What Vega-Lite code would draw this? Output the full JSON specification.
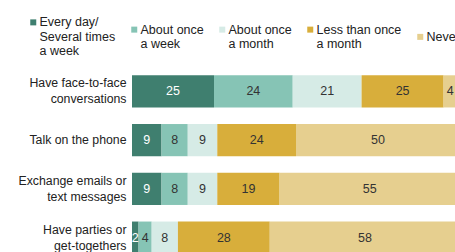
{
  "$schema": "https://vega.github.io/schema/vega-lite/v6.json",
  "autosize": {"type": "none"},
  "padding": {"left": 132, "top": 67, "right": 0, "bottom": 0},
  "width": 328,
  "height": 195,
  "background": "white",
  "config": {"view": {"stroke": null}, "font": "Liberation Sans"},
  "data": {
    "values": [
      {"activity": "Have face-to-face|conversations", "freq": "Every day/|Several times|a week", "o": 1, "value": 25},
      {"activity": "Have face-to-face|conversations", "freq": "About once|a week", "o": 2, "value": 24},
      {"activity": "Have face-to-face|conversations", "freq": "About once|a month", "o": 3, "value": 21},
      {"activity": "Have face-to-face|conversations", "freq": "Less than once|a month", "o": 4, "value": 25},
      {"activity": "Have face-to-face|conversations", "freq": "Never", "o": 5, "value": 4},
      {"activity": "Talk on the phone", "freq": "Every day/|Several times|a week", "o": 1, "value": 9},
      {"activity": "Talk on the phone", "freq": "About once|a week", "o": 2, "value": 8},
      {"activity": "Talk on the phone", "freq": "About once|a month", "o": 3, "value": 9},
      {"activity": "Talk on the phone", "freq": "Less than once|a month", "o": 4, "value": 24},
      {"activity": "Talk on the phone", "freq": "Never", "o": 5, "value": 50},
      {"activity": "Exchange emails or|text messages", "freq": "Every day/|Several times|a week", "o": 1, "value": 9},
      {"activity": "Exchange emails or|text messages", "freq": "About once|a week", "o": 2, "value": 8},
      {"activity": "Exchange emails or|text messages", "freq": "About once|a month", "o": 3, "value": 9},
      {"activity": "Exchange emails or|text messages", "freq": "Less than once|a month", "o": 4, "value": 19},
      {"activity": "Exchange emails or|text messages", "freq": "Never", "o": 5, "value": 55},
      {"activity": "Have parties or|get-togethers", "freq": "Every day/|Several times|a week", "o": 1, "value": 2},
      {"activity": "Have parties or|get-togethers", "freq": "About once|a week", "o": 2, "value": 4},
      {"activity": "Have parties or|get-togethers", "freq": "About once|a month", "o": 3, "value": 8},
      {"activity": "Have parties or|get-togethers", "freq": "Less than once|a month", "o": 4, "value": 28},
      {"activity": "Have parties or|get-togethers", "freq": "Never", "o": 5, "value": 58}
    ]
  },
  "transform": [
    {"stack": "value", "groupby": ["activity"], "sort": [{"field": "o", "order": "ascending"}], "as": ["x0", "x1"]},
    {"calculate": "(datum.x0 + datum.x1) / 2", "as": "mid"}
  ],
  "encoding": {
    "y": {
      "field": "activity",
      "type": "nominal",
      "sort": ["Have face-to-face|conversations", "Talk on the phone", "Exchange emails or|text messages", "Have parties or|get-togethers"],
      "scale": {"paddingInner": 0.34, "paddingOuter": 0.17},
      "axis": {
        "title": null,
        "domain": false,
        "ticks": false,
        "labelPadding": 6,
        "labelFontSize": 12.3,
        "labelColor": "#222222",
        "labelLimit": 200,
        "labelExpr": "split(datum.label, '|')",
        "labelLineHeight": 16,
        "labelOffset": {"condition": {"test": "indexof(datum.value, '|') >= 0", "value": -8}, "value": 0}
      }
    }
  },
  "layer": [
    {
      "mark": {"type": "bar"},
      "encoding": {
        "x": {"field": "x0", "type": "quantitative", "scale": {"domain": [0, 100]}, "axis": null},
        "x2": {"field": "x1"},
        "color": {
          "field": "freq",
          "type": "nominal",
          "scale": {
            "domain": ["Every day/|Several times|a week", "About once|a week", "About once|a month", "Less than once|a month", "Never"],
            "range": ["#3f7f6f", "#86c4b5", "#d6ebe6", "#d8ae3b", "#e6cf8f"]
          },
          "legend": {
            "title": null,
            "orient": "none",
            "direction": "horizontal",
            "columns": 5,
            "legendX": -105,
            "legendY": -51,
            "padding": 0,
            "symbolType": "square",
            "symbolSize": 36,
            "symbolStrokeWidth": 0,
            "labelOffset": 0,
            "columnPadding": 12,
            "labelFontSize": 12.5,
            "labelColor": "#222222",
            "labelLimit": 200,
            "labelExpr": "split(datum.label, '|')",
            "labelLineHeight": 15.5
          }
        }
      }
    },
    {
      "mark": {"type": "text", "fontSize": 12.5},
      "encoding": {
        "x": {"field": "mid", "type": "quantitative"},
        "text": {"field": "value", "type": "quantitative"},
        "color": {
          "condition": {"test": "datum.o == 1", "value": "white"},
          "value": "#333333"
        }
      }
    }
  ]
}
